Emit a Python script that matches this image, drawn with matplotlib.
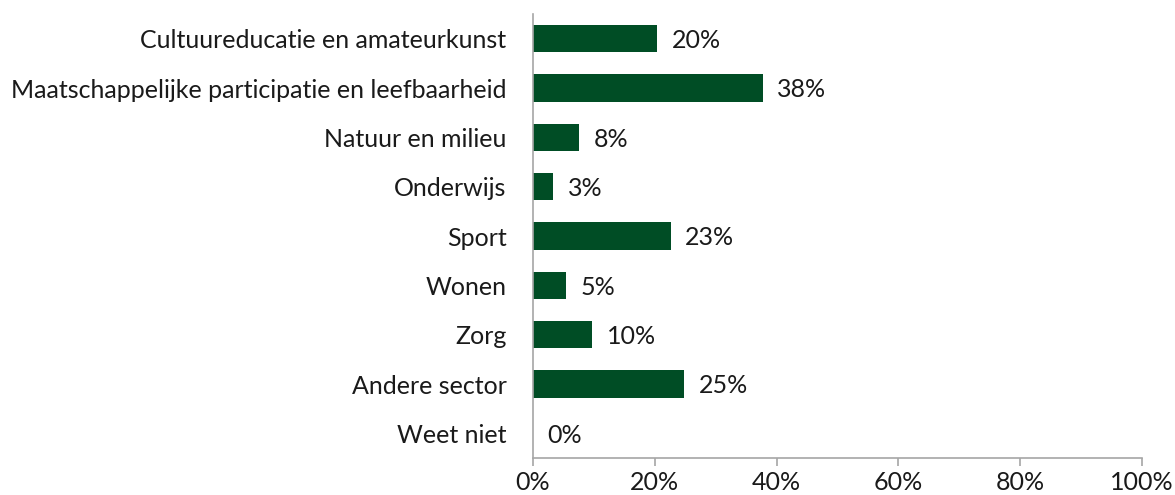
import matplotlib
matplotlib.use('Agg')
import matplotlib.pyplot as plt
import numpy as np

plt.rcParams['font.family'] = ['Lato', 'DejaVu Sans']

# sectoren, van boven naar beneden
sectors = ['Cultuureducatie en amateurkunst',
           'Maatschappelijke participatie en leefbaarheid',
           'Natuur en milieu',
           'Onderwijs',
           'Sport',
           'Wonen',
           'Zorg',
           'Andere sector',
           'Weet niet']
pct = [20.4, 37.7, 7.5, 3.3, 22.6, 5.4, 9.7, 24.8, 0.0]
pct_labels = ['20%', '38%', '8%', '3%', '23%', '5%', '10%', '25%', '0%']
xticks = [0, 20, 40, 60, 80, 100]

green = '#004D25'
grey = '#A6A6A6'
fs = 18

fig = plt.figure(figsize=(11.75, 4.95), dpi=100)
ax = fig.add_axes([533/1175, 1-458/495, 609/1175, 444/495])

y = np.arange(len(sectors))
ax.barh(y, pct, height=0.55, color=green)
for yi, v, lab in zip(y, pct, pct_labels):
    ax.text(v + 2.4, yi + 0.04, lab, va='center', ha='left', fontsize=fs, color='#1a1a1a')

ax.set_ylim(len(sectors) - 0.5, -0.5)
ax.set_xlim(0, 100)
ax.set_yticks(y)
ax.set_yticklabels(sectors, fontsize=fs, color='#1a1a1a')
ax.tick_params(axis='y', length=0, pad=19)
ax.set_xticks(xticks)
ax.set_xticklabels(['%d%%' % t for t in xticks], fontsize=fs, color='#1a1a1a')
ax.tick_params(axis='x', length=6, width=1.2, color=grey, direction='out', pad=3)

for s in ['top', 'right']:
    ax.spines[s].set_visible(False)
for s in ['left', 'bottom']:
    ax.spines[s].set_color(grey)
    ax.spines[s].set_linewidth(1.2)

plt.savefig('out.png', dpi=100)
